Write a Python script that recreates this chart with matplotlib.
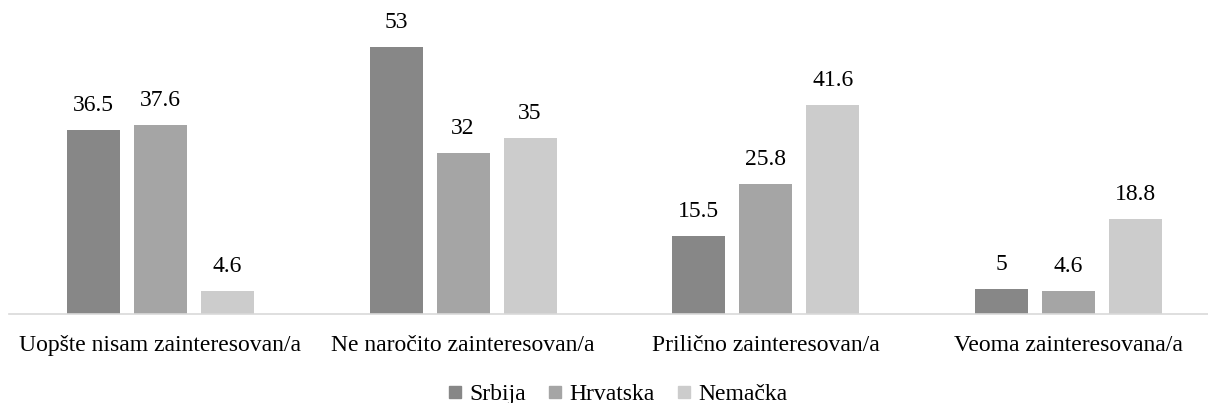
import matplotlib
matplotlib.use("Agg")
import matplotlib.pyplot as plt
import numpy as np
from matplotlib.lines import Line2D

plt.rcParams['font.family'] = ['Liberation Serif', 'DejaVu Serif']

categories = ["Uopšte nisam zainteresovan/a", "Ne naročito zainteresovan/a",
              "Prilično zainteresovan/a", "Veoma zainteresovana/a"]
series_names = ["Srbija", "Hrvatska", "Nemačka"]
srbija = [36.5, 53, 15.5, 5]
hrvatska = [37.6, 32, 25.8, 4.6]
nemacka = [4.6, 35, 41.6, 18.8]
colors = ["#878787", "#a5a5a5", "#cccccc"]

W, H = 1208, 403
fig = plt.figure(figsize=(W / 100, H / 100), dpi=100)
# axes: baseline at y=314 px, one category = ~302.7 px wide
ax = fig.add_axes([9 / W, (H - 314) / H, 1211 / W, 302 / H])

x = np.arange(len(categories))
step = 0.221
width = 0.175
for i, (vals, col) in enumerate(zip([srbija, hrvatska, nemacka], colors)):
    pos = x + (i - 1) * step
    ax.bar(pos, vals, width=width, color=col, zorder=2)
    for p, v in zip(pos, vals):
        ax.annotate(f"{v:g}", (p, v), xytext=(0, 10), textcoords="offset points",
                    ha="center", va="bottom", fontsize=17)

ax.set_xlim(-0.5, len(categories) - 0.5)
ax.set_ylim(0, 60)
ax.set_yticks([])
ax.set_xticks(x)
ax.set_xticklabels(categories, fontsize=17)
ax.tick_params(axis="x", length=0, pad=15)
for side in ["top", "right", "left"]:
    ax.spines[side].set_visible(False)
ax.spines["bottom"].set_color("#d9d9d9")
ax.spines["bottom"].set_linewidth(1.2)

handles = [Line2D([], [], marker="s", linestyle="none", markersize=9,
                  markerfacecolor=c, markeredgecolor=c) for c in colors]
fig.legend(handles, series_names, loc="center", bbox_to_anchor=(617 / W, 1 - 394 / H),
           ncol=3, frameon=False, fontsize=17, handletextpad=0.25,
           columnspacing=0.9, handlelength=0.7)

fig.savefig("out.png", dpi=100)
